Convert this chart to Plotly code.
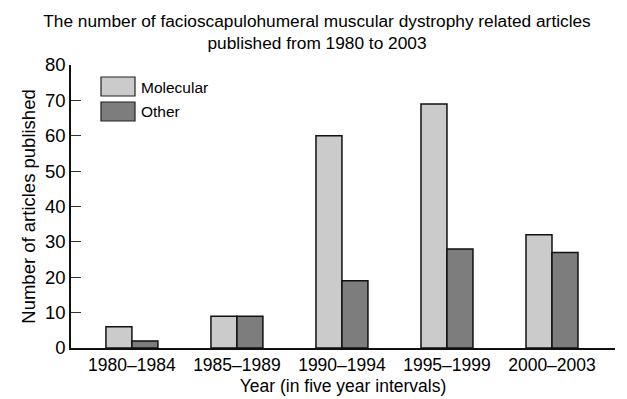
import plotly.graph_objects as go

categories = ["1980\u20131984", "1985\u20131989", "1990\u20131994", "1995\u20131999", "2000\u20132003"]
molecular = [6, 9, 60, 69, 32]
other = [2, 9, 19, 28, 27]
series_names = ["Molecular", "Other"]
y_ticks = [0, 10, 20, 30, 40, 50, 60, 70, 80]

c_mol = "#cbcbcb"
c_oth = "#7d7d7d"
font = "Liberation Sans, Arial, sans-serif"

# The page body has an 8px margin; work in page pixels and subtract it.
OFF = 8
W, H = 627 - OFF, 399 - OFF
L = 71 - OFF
T = 65 - OFF
R = W - (615 - OFF)
B = H - (348 - OFF)

fig = go.Figure()
fig.add_trace(go.Bar(x=categories, y=molecular, name=series_names[0],
                     marker=dict(color=c_mol, line=dict(color="#111", width=1.5))))
fig.add_trace(go.Bar(x=categories, y=other, name=series_names[1],
                     marker=dict(color=c_oth, line=dict(color="#111", width=1.5))))

fig.update_layout(
    width=W, height=H,
    margin=dict(l=L, r=R, t=T, b=B, autoexpand=False),
    paper_bgcolor="white", plot_bgcolor="white",
    barmode="group", bargap=0.505, bargroupgap=0,
    showlegend=False,
    font=dict(family=font, color="#000", size=17),
    title=dict(text="The number of facioscapulohumeral muscular dystrophy related articles<br>published from 1980 to 2003",
               x=(317 - OFF) / W, xanchor="center", xref="container",
               y=1 - (27 - OFF) / H, yanchor="middle",
               font=dict(size=17.3, family=font, color="#000")),
)
fig.update_xaxes(
    range=[-0.58, 4.6], showline=True, linecolor="#111", linewidth=1.5,
    ticks="", showgrid=False, tickfont=dict(size=17.5), automargin=False,
    title=dict(text="Year (in five year intervals)", font=dict(size=17.5), standoff=6),
)
fig.update_yaxes(
    range=[0, 80], tickvals=y_ticks, showline=True, linecolor="#111", linewidth=1.5,
    ticks="inside", ticklen=10, tickwidth=1, tickcolor="#333",
    showgrid=False, zeroline=False, tickfont=dict(size=18.5), automargin=False,
    title=dict(text="Number of articles published", font=dict(size=18.5), standoff=4),
)

# Legend drawn as shapes + text (page pixel positions)
pw = W - L - R
ph = H - T - B
def px2x(p):
    return (p - OFF - L) / pw
def py2y(p):
    return 1 - (p - OFF - T) / ph
for i, (name, col) in enumerate(zip(series_names, [c_mol, c_oth])):
    y0 = 77 + i * 25
    fig.add_shape(type="rect", xref="paper", yref="paper",
                  x0=px2x(101), x1=px2x(135), y0=py2y(y0 + 19), y1=py2y(y0),
                  fillcolor=col, line=dict(color="#222", width=1.2))
    fig.add_annotation(xref="paper", yref="paper", x=px2x(139), y=py2y(y0 + 10),
                       text=name, showarrow=False, xanchor="left", yanchor="middle",
                       font=dict(size=15.5, family=font, color="#000"))

fig.write_html("out.html")
